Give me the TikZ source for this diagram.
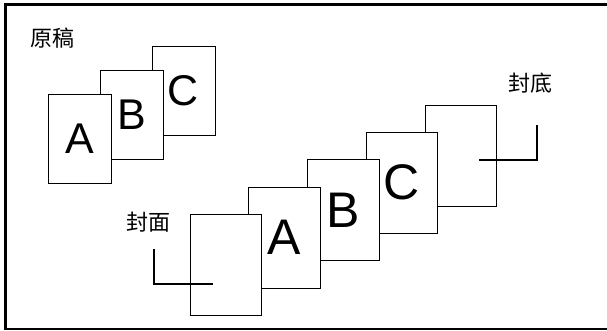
\documentclass[tikz,border=0pt]{standalone}
\usepackage{fontspec}
\setmainfont{Liberation Sans}
\newfontfamily\cjk{Noto Sans CJK SC}
\usetikzlibrary{positioning}

\tikzset{
	sheet/.style={draw, line width=0.9pt, fill=white, inner sep=0pt,
		minimum width=63pt, minimum height=89pt, font=\fontsize{43}{43}\selectfont},
	bigsheet/.style={sheet, minimum width=71.5pt, minimum height=101pt,
		font=\fontsize{50}{50}\selectfont},
	caption/.style={font=\cjk\fontsize{22}{22}\selectfont, inner sep=0pt},
	cropmark/.style={line width=2pt}
}

\begin{document}
\begin{tikzpicture}[x=1pt, y=-1pt]
		\useasboundingbox (0, 0) rectangle (607, 330);
		% Frame
		\draw[line width=2.8pt] (607, 4.6) -- (5.4, 4.6) -- (5.4, 329) -- (607, 329);
		
		% Originals
		\node[caption] (orig) at (52.5, 38) {原稿};
		\node[sheet] (origC) at (183.5, 90.5) {C};
		\node[sheet] (origB) at (131.5, 114.5) {B};
		\node[sheet] (origA) at (79.5, 138.5) {A};
		
		% Booklet
		\node[bigsheet] (back) at (461, 155.5) {};
		\node[bigsheet] (pageC) at (402, 182.7) {C};
		\node[bigsheet] (pageB) at (343.2, 210.1) {B};
		\node[bigsheet] (pageA) at (284.5, 237.5) {A};
		\node[bigsheet] (front) at (226, 265) {};
		
		% Marks
		\node[caption] (frontlabel) at (148.5, 222) {封面};
		\node[caption] (backlabel) at (530, 83) {封底};
		\coordinate (frontTop) at (154, 249);
		\coordinate (frontCorner) at (154, 284);
		\coordinate (frontEnd) at (213, 284);
		\coordinate (backTop) at (537, 125);
		\coordinate (backCorner) at (537, 160);
		\coordinate (backEnd) at (479, 160);
		\draw[cropmark] (frontTop) -- (frontCorner) -- (frontEnd);
		\draw[cropmark] (backTop) -- (backCorner) -- (backEnd);
	\end{tikzpicture}
\end{document}
